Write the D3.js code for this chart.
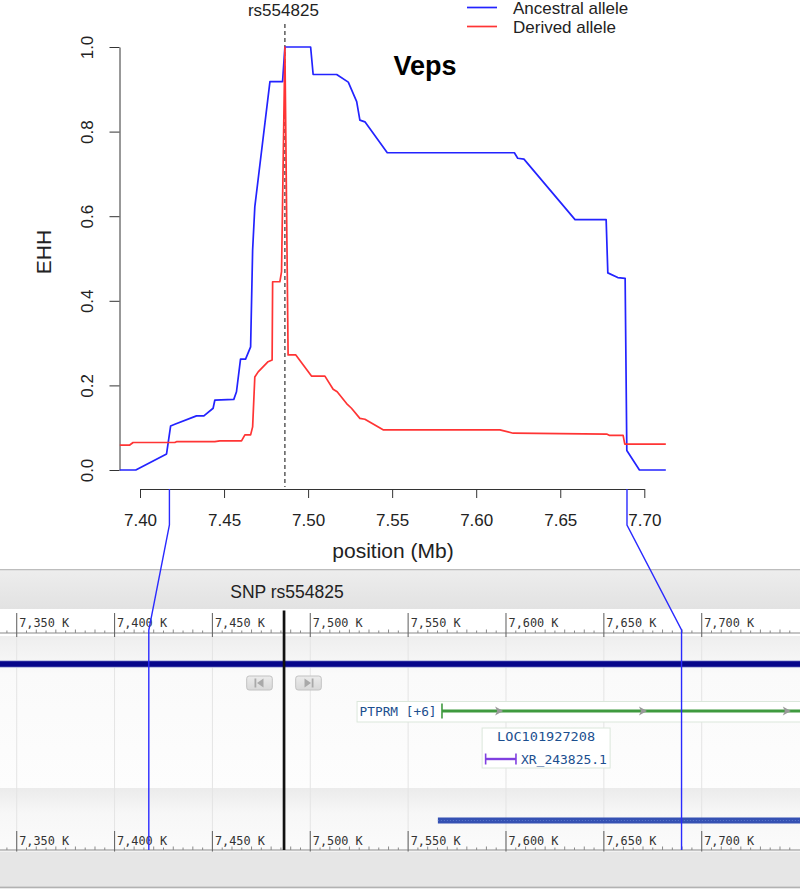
<!DOCTYPE html>
<html><head><meta charset="utf-8">
<script src="https://cdn.jsdelivr.net/npm/d3@7/dist/d3.min.js"></script>
<style>body{margin:0;background:#fff}svg{display:block}</style>
</head><body>
<svg id="c" width="800" height="891"></svg>
<script>
// ---------- EHH data ----------
const ancPos = [7.388, 7.3975, 7.4158, 7.4182, 7.4207, 7.4336, 7.4380, 7.4435, 7.4445, 7.4558,
  7.4574, 7.4598, 7.4628, 7.4658, 7.4670, 7.4683, 7.4773, 7.4848, 7.4862, 7.5015,
  7.5030, 7.5170, 7.5239, 7.5289, 7.5308, 7.5338, 7.5471, 7.6227, 7.6247, 7.6284,
  7.6588, 7.6773, 7.6783, 7.6842, 7.6886, 7.6896, 7.6971, 7.7128];
const ancEHH = [0, 0, 0.038, 0.104, 0.108, 0.128, 0.128, 0.146, 0.165, 0.167,
  0.185, 0.262, 0.262, 0.291, 0.52, 0.622, 0.918, 0.918, 1.0, 1.0,
  0.935, 0.935, 0.917, 0.871, 0.827, 0.823, 0.75, 0.75, 0.737, 0.735,
  0.592, 0.592, 0.466, 0.455, 0.453, 0.046, 0, 0];
const derPos = [7.388, 7.3939, 7.3959, 7.4207, 7.4217, 7.4445, 7.4475, 7.4604, 7.4624, 7.4658,
  7.4670, 7.4683, 7.4703, 7.4762, 7.4786, 7.4789, 7.4832, 7.4842, 7.4862, 7.4881,
  7.4927, 7.5020, 7.5100, 7.5149, 7.5173, 7.5229, 7.5258, 7.5308, 7.5338, 7.5446,
  7.6141, 7.6220, 7.6776, 7.6791, 7.6874, 7.6884, 7.7128];
const derEHH = [0.059, 0.059, 0.065, 0.065, 0.067, 0.067, 0.069, 0.069, 0.083, 0.083,
  0.102, 0.22, 0.232, 0.256, 0.26, 0.445, 0.445, 0.469, 1.0, 0.272,
  0.272, 0.222, 0.222, 0.191, 0.185, 0.157, 0.146, 0.122, 0.12, 0.095,
  0.095, 0.087, 0.085, 0.082, 0.082, 0.061, 0.061];
const seriesNames = ["Ancestral allele", "Derived allele"];
const xTicks = [7.40, 7.45, 7.50, 7.55, 7.60, 7.65, 7.70];
const yTicks = [0.0, 0.2, 0.4, 0.6, 0.8, 1.0];
const coreSNP = "rs554825";
const corePos = 7.4862;          // Mb
const regionBounds = [7.4175, 7.6897]; // Mb, linked to genome view
const title = "Veps";

// ---------- Genome viewer data ----------
const rulerTicksK = [7350, 7400, 7450, 7500, 7550, 7600, 7650, 7700];
const rulerLabels = ["7,350 K", "7,400 K", "7,450 K", "7,500 K", "7,550 K", "7,600 K", "7,650 K", "7,700 K"];
const snpK = 7486.6;
const snpHeader = "SNP rs554825";
const ptprmLabel = "PTPRM [+6]";
const ptprmStartK = 7567.3;
const ptprmLabelStartK = 7523.9;
const ptprmArrowsK = [7597.0, 7670.5, 7744.0];
const locLabel = "LOC101927208";
const locBoxK = [7587.8, 7653.2];
const xrLabel = "XR_243825.1";
const xrK = [7589.6, 7605.1];
const lowerBarStartK = 7565.2;

// ---------- setup ----------
const svg = d3.select("#c");
const RF = "'Liberation Sans', Arial, Helvetica, sans-serif";
const MF = "'DejaVu Sans Mono', monospace";

const x = d3.scaleLinear().domain([7.40, 7.70]).range([140, 644.3]);
const y = d3.scaleLinear().domain([0, 1]).range([470, 47]);
const gx = d3.scaleLinear().domain([7350, 7700]).range([16.7, 701.7]);

const defs = svg.append("defs");
function vgrad(id, stops) {
  const g = defs.append("linearGradient").attr("id", id).attr("x1", 0).attr("x2", 0).attr("y1", 0).attr("y2", 1);
  stops.forEach(s => g.append("stop").attr("offset", s[0]).attr("stop-color", s[1]));
}
vgrad("hdr", [[0, "#ededed"], [1, "#e2e2e2"]]);
vgrad("trk", [[0, "#eeeeee"], [0.25, "#fafafa"], [1, "#fdfdfd"]]);
vgrad("low", [[0, "#ebebeb"], [0.4, "#f7f7f7"], [1, "#fbfbfb"]]);
vgrad("btn", [[0, "#ececec"], [1, "#d8d8d8"]]);

// ================= Genome browser =================
const gb = svg.append("g");
gb.append("rect").attr("x", 0).attr("y", 569).attr("width", 800).attr("height", 1.6).attr("fill", "#bdbdbd");
gb.append("rect").attr("x", 0).attr("y", 570.6).attr("width", 800).attr("height", 38.4).attr("fill", "url(#hdr)");
gb.append("text").attr("x", 287).attr("y", 598).attr("text-anchor", "middle")
  .attr("font-family", RF).attr("font-size", 17.5).attr("fill", "#222").text(snpHeader);

// track area
gb.append("rect").attr("x", 0).attr("y", 609).attr("width", 800).attr("height", 27).attr("fill", "#fff");
gb.append("rect").attr("x", 0).attr("y", 636).attr("width", 800).attr("height", 152).attr("fill", "url(#trk)");
gb.append("rect").attr("x", 0).attr("y", 788).attr("width", 800).attr("height", 62).attr("fill", "url(#low)");

// grid lines
gb.selectAll("line.grid").data(rulerTicksK).join("line").attr("class", "grid")
  .attr("x1", d => gx(d)).attr("x2", d => gx(d)).attr("y1", 636).attr("y2", 849)
  .attr("stroke", "#e4e4e4").attr("stroke-width", 1);

// rulers
function ruler(lineY, labelY, tickTop, tickBot) {
  const r = gb.append("g");
  r.append("line").attr("x1", 0).attr("x2", 800).attr("y1", lineY).attr("y2", lineY)
    .attr("stroke", "#8a8a8a").attr("stroke-width", 1.2);
  const minors = d3.range(7300, 7760, 5).filter(k => k % 50 !== 0);
  r.selectAll("line.mn").data(minors).join("line").attr("class", "mn")
    .attr("x1", d => gx(d)).attr("x2", d => gx(d))
    .attr("y1", d => lineY - (d % 10 === 0 ? 3.5 : 2.5)).attr("y2", lineY)
    .attr("stroke", "#8a8a8a").attr("stroke-width", 1);
  r.selectAll("line.mj").data(rulerTicksK).join("line").attr("class", "mj")
    .attr("x1", d => gx(d)).attr("x2", d => gx(d)).attr("y1", tickTop).attr("y2", tickBot)
    .attr("stroke", "#6a6a6a").attr("stroke-width", 1.1);
  r.selectAll("text").data(rulerTicksK).join("text")
    .attr("x", d => gx(d) + 2.5).attr("y", labelY)
    .attr("font-family", MF).attr("font-size", 12.5).attr("fill", "#333")
    .attr("textLength", 50).attr("lengthAdjust", "spacingAndGlyphs")
    .text((d, i) => rulerLabels[i]);
}
ruler(633, 627, 613, 637);

// navy contig bar
gb.append("rect").attr("x", 0).attr("y", 660.2).attr("width", 800).attr("height", 7.6).attr("fill", "#b3b9de");
gb.append("rect").attr("x", 0).attr("y", 661.2).attr("width", 800).attr("height", 5.6).attr("fill", "#06068a");

// nav buttons
function button(x0, dir) {
  const b = gb.append("g");
  b.append("rect").attr("x", x0).attr("y", 676).attr("width", 25.6).attr("height", 14).attr("rx", 2.5)
    .attr("fill", "url(#btn)").attr("stroke", "#c2c2c2").attr("stroke-width", 1);
  const cx = x0 + 12.8, cy = 683;
  if (dir < 0) {
    b.append("rect").attr("x", cx - 5).attr("y", cy - 4.5).attr("width", 1.8).attr("height", 9).attr("fill", "#a9a9a9");
    b.append("path").attr("d", `M${cx - 2.5},${cy} L${cx + 4},${cy - 4.5} L${cx + 4},${cy + 4.5} Z`).attr("fill", "#a9a9a9");
  } else {
    b.append("rect").attr("x", cx + 3.2).attr("y", cy - 4.5).attr("width", 1.8).attr("height", 9).attr("fill", "#a9a9a9");
    b.append("path").attr("d", `M${cx + 2.5},${cy} L${cx - 4},${cy - 4.5} L${cx - 4},${cy + 4.5} Z`).attr("fill", "#a9a9a9");
  }
}
button(246.7, -1);
button(295.7, 1);

// PTPRM gene
gb.append("rect").attr("x", gx(ptprmLabelStartK)).attr("y", 701.5).attr("width", 820 - gx(ptprmLabelStartK)).attr("height", 20.5)
  .attr("fill", "#fff").attr("stroke", "#dbe7db").attr("stroke-width", 1);
gb.append("text").attr("x", gx(ptprmLabelStartK) + 2.5).attr("y", 716)
  .attr("font-family", MF).attr("font-size", 12.5).attr("fill", "#1c4f8f")
  .attr("textLength", 77).attr("lengthAdjust", "spacingAndGlyphs").text(ptprmLabel);
gb.append("line").attr("x1", gx(ptprmStartK)).attr("x2", 800).attr("y1", 711).attr("y2", 711)
  .attr("stroke", "#3f9a3f").attr("stroke-width", 3);
gb.append("line").attr("x1", gx(ptprmStartK)).attr("x2", gx(ptprmStartK)).attr("y1", 703.5).attr("y2", 718.5)
  .attr("stroke", "#3f9a3f").attr("stroke-width", 1.6);
gb.selectAll("path.arr").data(ptprmArrowsK).join("path").attr("class", "arr")
  .attr("d", d => { const c = gx(d); return `M${c - 5},${706.5} L${c + 3},${711} L${c - 5},${715.5} L${c - 3},${711} Z`; })
  .attr("fill", "#9a9a9a");

// LOC gene
gb.append("rect").attr("x", gx(locBoxK[0])).attr("y", 728).attr("width", gx(locBoxK[1]) - gx(locBoxK[0])).attr("height", 40)
  .attr("fill", "#fff").attr("stroke", "#dbe7db").attr("stroke-width", 1);
gb.append("text").attr("x", (gx(locBoxK[0]) + gx(locBoxK[1])) / 2).attr("y", 741).attr("text-anchor", "middle")
  .attr("font-family", MF).attr("font-size", 12.5).attr("fill", "#1c4f8f")
  .attr("textLength", 98).attr("lengthAdjust", "spacingAndGlyphs").text(locLabel);
gb.append("line").attr("x1", gx(xrK[0])).attr("x2", gx(xrK[1])).attr("y1", 759).attr("y2", 759)
  .attr("stroke", "#8040e0").attr("stroke-width", 2.4);
xrK.forEach(k => gb.append("line").attr("x1", gx(k)).attr("x2", gx(k)).attr("y1", 753.5).attr("y2", 764.5)
  .attr("stroke", "#8040e0").attr("stroke-width", 1.6));
gb.append("text").attr("x", gx(xrK[1]) + 5).attr("y", 764)
  .attr("font-family", MF).attr("font-size", 12.5).attr("fill", "#1c4f8f")
  .attr("textLength", 86).attr("lengthAdjust", "spacingAndGlyphs").text(xrLabel);

// lower blue bar
gb.append("rect").attr("x", gx(lowerBarStartK)).attr("y", 817.5).attr("width", 800 - gx(lowerBarStartK)).attr("height", 6)
  .attr("fill", "#3551b3");
gb.append("line").attr("x1", gx(lowerBarStartK)).attr("x2", 800).attr("y1", 820.5).attr("y2", 820.5)
  .attr("stroke", "#5c78cc").attr("stroke-width", 1).attr("stroke-dasharray", "1,2");

// bottom ruler
ruler(850, 845, 831, 853);
gb.append("rect").attr("x", 0).attr("y", 851.5).attr("width", 800).attr("height", 35).attr("fill", "#e6e6e6");
gb.append("rect").attr("x", 0).attr("y", 886.5).attr("width", 800).attr("height", 1.8).attr("fill", "#b2b2b2");

// SNP marker line
gb.append("line").attr("x1", gx(snpK)).attr("x2", gx(snpK)).attr("y1", 610.5).attr("y2", 850)
  .attr("stroke", "#111").attr("stroke-width", 2.7);

// ================= EHH plot =================
const p = svg.append("g");
// x axis
const xa = p.append("g").attr("transform", "translate(0,489)")
  .call(d3.axisBottom(x).tickValues(xTicks).tickFormat(d3.format(".2f")).tickSize(9).tickSizeOuter(0));
xa.select(".domain").attr("stroke", "#333");
xa.selectAll(".tick line").attr("stroke", "#333");
xa.selectAll(".tick text").attr("font-family", RF).attr("font-size", 17).attr("fill", "#222")
  .attr("dy", null).attr("y", 37);

// y axis
const ya = p.append("g").attr("transform", "translate(119.5,0)")
  .call(d3.axisLeft(y).tickValues(yTicks).tickFormat(d3.format(".1f")).tickSize(10).tickSizeOuter(0));
ya.select(".domain").attr("stroke", "#333");
ya.selectAll(".tick line").attr("stroke", "#333");
ya.selectAll(".tick text").attr("font-family", RF).attr("font-size", 17).attr("fill", "#222")
  .attr("x", null).attr("dy", "0.35em").attr("text-anchor", "middle")
  .attr("transform", "translate(-32,0) rotate(-90)");

// axis titles
p.append("text").attr("transform", "translate(44,252) rotate(-90)").attr("dy", "0.35em")
  .attr("text-anchor", "middle").attr("font-family", RF).attr("font-size", 21).attr("fill", "#222").text("EHH");
p.append("text").attr("x", 393).attr("y", 558).attr("text-anchor", "middle")
  .attr("font-family", RF).attr("font-size", 21).attr("fill", "#222").text("position (Mb)");

// title
p.append("text").attr("x", 425).attr("y", 75).attr("text-anchor", "middle")
  .attr("font-family", RF).attr("font-weight", "bold").attr("font-size", 27).attr("fill", "#000").text(title);

// core SNP
p.append("line").attr("x1", x(corePos)).attr("x2", x(corePos)).attr("y1", 24).attr("y2", 487)
  .attr("stroke", "#333").attr("stroke-width", 1.2).attr("stroke-dasharray", "4,3");
p.append("text").attr("x", x(corePos) - 1.5).attr("y", 16).attr("text-anchor", "middle")
  .attr("font-family", RF).attr("font-size", 17).attr("fill", "#222").text(coreSNP);

// curves
const anc = ancPos.map((d, i) => ({ pos: d, v: ancEHH[i] }));
const der = derPos.map((d, i) => ({ pos: d, v: derEHH[i] }));
const line = d3.line().x(d => x(d.pos)).y(d => y(d.v));
p.append("path").datum(anc).attr("d", line).attr("fill", "none").attr("stroke", "#2323ff").attr("stroke-width", 1.7)
  .attr("stroke-linejoin", "round");
p.append("path").datum(der).attr("d", line).attr("fill", "none").attr("stroke", "#ff3434").attr("stroke-width", 1.7)
  .attr("stroke-linejoin", "round");

// legend
const lgColors = ["#2323ff", "#ff3434"];
const lg = p.append("g");
seriesNames.forEach((n, i) => {
  const ly = 7.5 + i * 19;
  lg.append("line").attr("x1", 467).attr("x2", 497).attr("y1", ly).attr("y2", ly)
    .attr("stroke", lgColors[i]).attr("stroke-width", 1.7);
  lg.append("text").attr("x", 513).attr("y", ly + 6.5).attr("font-family", RF).attr("font-size", 17)
    .attr("fill", "#222").text(n);
});

// connectors from EHH plot to genome view
regionBounds.forEach(b => {
  const xt = x(b), xb = gx(b * 1000);
  p.append("path").attr("d", `M${xt},489 L${xt},525 L${xb},630 L${xb},850`)
    .attr("fill", "none").attr("stroke", "#2a2aff").attr("stroke-width", 1.4);
});
</script>
</body></html>
